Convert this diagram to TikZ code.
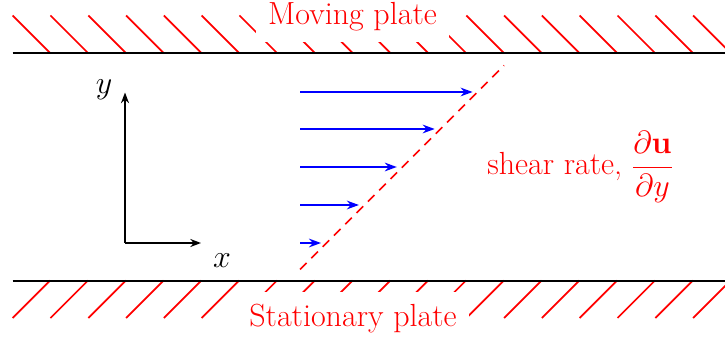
\RequirePackage{fix-cm}
\documentclass[tikz,border=0pt]{standalone}
\usetikzlibrary{arrows.meta}
\pgfdeclarelayer{bg}
\pgfsetlayers{bg,main}
\begin{document}
\begin{tikzpicture}[x=0.75pt,y=-0.75pt,
  plate/.style={line width=2.2pt,black},
  hatch/.style={line width=1.3pt,red},
  vel/.style={line width=1.4pt,blue,-{Stealth[length=9pt,width=6.5pt]}},
  axisarrow/.style={line width=1.4pt,black,-{Stealth[length=8pt,width=6pt]}},
  platelbl/.style={red,font=\fontsize{24}{28}\selectfont,inner sep=0pt},
  biglbl/.style={font=\fontsize{24}{28}\selectfont},
  shearline/.style={red,line width=1.3pt,dash pattern=on 7pt off 5pt}]
\clip (0,0) rectangle (725,342);
% plate labels
\node[platelbl,anchor=base] (mov) at (352.5,25) {Moving plate};
\node[platelbl,anchor=base] (sta) at (353,326) {Stationary plate};
\begin{pgfonlayer}{bg}
  % hatching
  \foreach \i in {0,...,19} {
    \draw[hatch] (12.7+37.8*\i,15.5) -- ++(37.5,37.5);
    \draw[hatch] (12.7+37.8*\i,318) -- ++(37.5,-37.5);
  }
  % white boxes behind the labels
  \fill[white] ([xshift=-8.8pt,yshift=8.8pt]mov.north west) rectangle ([xshift=8.8pt,yshift=-7.8pt]mov.south east);
  \fill[white] ([xshift=-8.8pt,yshift=8.8pt]sta.north west) rectangle ([xshift=8.8pt,yshift=-8.8pt]sta.south east);
\end{pgfonlayer}
% plates
\coordinate (tl) at (12.7,53);
\coordinate (tr) at (740,53);
\coordinate (bl) at (12.7,281);
\coordinate (br) at (740,281);
\draw[plate] (tl) -- (tr);
\draw[plate] (bl) -- (br);
% shear line
\coordinate (d0) at (300,269.5);
\coordinate (d1) at (504,65.5);
\draw[shearline] (d0) -- (d1);
% velocity arrows
\foreach \k/\yy in {0/243,1/205,2/167,3/129,4/92} {
  \coordinate (a\k) at (300,\yy);
  \coordinate (b\k) at (321+37.9*\k,\yy);
  \draw[vel] (a\k) -- (b\k);
}
% axes
\coordinate (o) at (125,243);
\coordinate (xe) at (201,243);
\coordinate (ye) at (125,92.5);
\draw[axisarrow] (o) -- (xe);
\draw[axisarrow] (o) -- (ye);
\node[biglbl] (xl) at (222,261) {$x$};
\node[biglbl] (yl) at (104,90) {$y$};
% shear rate
\node[biglbl,red,anchor=base west,inner sep=0pt] (sr) at (487,175)
  {shear rate, $\displaystyle\frac{\partial\mathbf{u}}{\partial y}$};
\end{tikzpicture}
\end{document}
